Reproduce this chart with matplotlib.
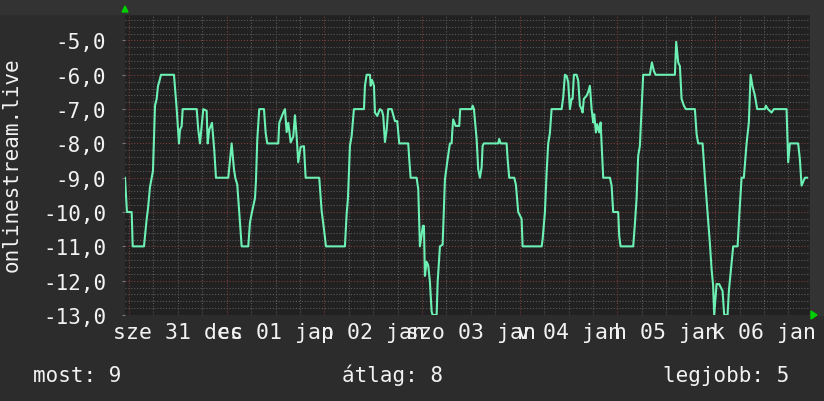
import numpy as np
import matplotlib.pyplot as plt
from matplotlib.patches import Rectangle, Polygon

# hours since 31 Dec 00:00 and the (negated) position
hours = [-0.98, -0.5, 0.66, 0.91, 3.68, 4.35, 4.67, 5.16, 5.58, 5.89, 6.39, 6.80, 7.12, 7.44, 7.86,
         11.05, 11.72, 12.28, 12.53, 12.94, 13.19, 16.63, 17.02, 17.44, 18.25, 19.08, 19.33, 19.72,
         20.39, 20.95, 21.37,
         24.39, 25.22, 25.79, 26.11, 26.60, 27.09, 27.68, 29.30, 29.72, 30.21, 30.95, 31.19, 31.51,
         32.00, 33.16, 33.58, 33.97, 36.67, 36.92, 37.90, 38.32, 38.73, 39.13, 39.72, 40.36, 40.77,
         41.19, 41.58, 42.17, 42.98, 43.40, 46.74, 47.33, 47.90,
         48.39, 53.05, 53.47, 53.79, 54.28, 54.70, 55.26, 57.72, 57.97, 58.38, 59.19, 59.37, 59.69,
         60.18, 60.42, 60.99, 61.65, 62.14, 62.46, 62.88, 63.30, 63.69, 64.52, 65.33, 65.90, 66.39,
         68.60, 68.85, 69.19, 70.66, 71.06, 71.47,
         72.21, 72.45, 72.70, 73.12, 73.51, 73.93, 74.35, 74.59, 75.58, 75.82, 76.07, 76.39, 77.05,
         77.62, 78.28, 78.84, 79.26, 79.41, 79.65, 80.24, 81.13, 81.37, 84.17, 84.42, 84.74, 85.40,
         85.79, 86.21, 86.63, 86.87, 87.19, 90.71, 90.95, 91.30, 92.77, 93.02, 93.41, 94.64, 95.05,
         95.62,
         96.45, 96.70, 101.37, 101.61, 102.18, 102.59, 102.99, 103.40, 103.82, 106.28, 106.67, 107.09,
         107.51, 107.90, 108.32, 108.74, 108.98, 109.30, 109.96, 110.36, 110.77, 111.19, 111.43,
         111.75, 112.42, 112.81, 113.23, 113.40, 113.65, 114.04, 114.29, 114.71, 115.03, 115.52,
         115.86, 116.11, 116.50, 118.15, 118.56, 118.95,
         120.18, 120.43, 120.77, 123.87, 124.28, 124.70, 125.09, 125.51, 125.92, 126.32, 127.96,
         128.46, 128.95, 129.37, 134.11, 134.43, 134.92, 135.34, 135.75, 136.32, 136.81, 139.02,
         139.44, 139.83, 140.91, 141.48, 142.70, 143.12, 143.51, 143.76,
         144.35, 144.99, 145.82, 146.22, 147.05, 147.37, 148.03, 148.43, 149.51, 149.90, 150.49,
         151.05, 151.72, 152.28, 152.70, 153.19, 153.76, 154.32, 156.21, 156.46, 156.95, 157.86,
         158.42, 161.54, 161.94, 162.35, 164.39, 164.81, 165.23, 166.04, 166.60]

rank = [-9.0, -10.0, -10.0, -11.0, -11.0, -10.2, -9.9, -9.27, -9.0, -8.8, -6.9, -6.7, -6.33, -6.2, -6.0,
        -6.0, -7.0, -8.0, -7.6, -7.5, -7.0, -7.0, -7.6, -8.0, -7.0, -7.05, -8.0, -7.6,
        -7.4, -8.2, -9.0,
        -9.0, -8.0, -8.75, -9.0, -9.2, -10.0, -11.0, -11.0, -10.3, -10.0, -9.6, -9.1, -7.9,
        -7.0, -7.0, -7.7, -8.0, -8.0, -7.4, -7.1, -7.0, -7.67, -7.4, -7.97, -7.8, -7.18,
        -7.8, -8.55, -8.1, -8.08, -9.0, -9.0, -9.97, -10.5,
        -11.0, -11.0, -10.05, -9.6, -8.07, -7.78, -7.0, -7.0, -6.32, -6.0, -6.0, -6.32, -6.15,
        -6.32, -7.1, -7.2, -7.0, -7.05, -7.2, -7.96, -7.6, -7.0, -7.0, -7.35, -7.35, -8.0,
        -8.0, -8.46, -9.0, -9.0, -9.33, -11.0,
        -10.4, -10.4, -11.86, -11.45, -11.55, -12.04, -12.9, -13.0, -13.0, -12.05, -11.57, -11.0, -10.95,
        -9.04, -8.46, -8.0, -8.0, -7.67, -7.3, -7.49, -7.49, -7.0, -7.0, -6.9, -7.0, -7.87,
        -8.75, -9.0, -8.7, -8.07, -8.0, -8.0, -7.87, -8.0, -8.0, -8.46, -9.0, -9.0, -9.2,
        -10.0,
        -10.2, -11.0, -11.0, -10.8, -10.0, -8.85, -8.0, -7.7, -7.0, -7.0, -6.66, -6.0,
        -6.03, -6.22, -7.0, -6.7, -6.7, -6.0, -6.0, -6.17, -6.9, -7.0, -7.1,
        -6.7, -6.61, -6.5, -6.32, -6.61, -7.0, -7.39, -7.15, -7.68, -7.44, -7.68,
        -7.39, -8.0, -9.0, -9.0, -9.23, -10.0,
        -10.0, -10.7, -11.0, -11.0, -10.35, -9.6, -8.36, -8.07, -7.0, -6.0, -6.0,
        -5.64, -5.89, -6.0, -6.0, -5.04, -5.64, -5.75, -6.7, -6.9, -7.0, -7.0,
        -7.73, -8.0, -8.0, -9.0, -10.9, -11.66, -12.15, -13.0,
        -12.1, -12.1, -12.3, -13.0, -13.0, -12.3, -11.5, -11.0, -11.0, -10.15, -9.0,
        -9.0, -8.0, -7.39, -6.0, -6.34, -6.6, -7.0, -7.0, -6.9, -7.0, -7.1,
        -7.0, -7.0, -8.55, -8.0, -8.0, -8.46, -9.23, -9.0, -9.0]

day_labels = ["sze 31 dec", "cs 01 jan", "p 02 jan", "szo 03 jan", "v 04 jan", "h 05 jan", "k 06 jan"]
label_hours = [12, 36, 60, 84, 108, 132, 156]

stat_names = ["most", "átlag", "legjobb"]
stat_values = [9, 8, 5]

W, H = 824, 402
MONO = "DejaVu Sans Mono"
TXT = "#f2f2f2"
GRID = "#5a5a5a"
MAJOR = "#7a3c3c"

fig = plt.figure(figsize=(W / 100, H / 100), dpi=100, facecolor="#2c2c2c")
# slightly lighter band on top and right side
fig.patches.append(Rectangle((0, 1 - 15 / H), 1, 15 / H, transform=fig.transFigure,
                             color="#333333", zorder=0))
fig.patches.append(Rectangle((810 / W, 86 / H), 14 / W, 1 - 101 / H, transform=fig.transFigure,
                             color="#333333", zorder=0))

ax = fig.add_axes([125 / W, 86 / H, 685 / W, 301.3 / H])
ax.set_facecolor("#212121")
for s in ax.spines.values():
    s.set_visible(False)

ax.set_xlim(-0.98, 167.3)
ax.set_ylim(-13, -4.22)

# grid: 0.2 steps horizontally, 6 h vertically, red on whole values / midnight
for v in np.arange(-13, -4.2, 0.2):
    is_major = abs(v - round(v)) < 1e-6
    ax.axhline(v, color=MAJOR if is_major else GRID, lw=0.8, ls=(0, (1, 1.6)), zorder=1)
for h in range(0, 168, 6):
    ax.axvline(h, color=MAJOR if h % 24 == 0 else GRID, lw=0.8, ls=(0, (1, 1.6)), zorder=1)

ax.plot(hours, rank, color="#6cf0b3", lw=1.5, zorder=3)

yt = list(range(-13, -4))
ax.set_yticks(yt, [f"{v},0" for v in yt])
ax.tick_params(axis="y", length=2.5, width=0.8, color="#777777", pad=11,
               labelsize=15, labelcolor=TXT)
ax.set_xticks(label_hours, day_labels)
ax.tick_params(axis="x", length=0, pad=5, labelsize=15.5, labelcolor=TXT)
for lab in ax.get_xticklabels() + ax.get_yticklabels():
    lab.set_fontfamily(MONO)

fig.text(12 / W, 1 - 165 / H, "onlinestream.live", rotation=90, ha="center", va="center",
         fontsize=15, color=TXT, family=MONO)

stat_x = [33, 342, 663]
for x, name, val in zip(stat_x, stat_names, stat_values):
    fig.text(x / W, 1 - 382 / H, f"{name}: {val}", ha="left", va="baseline",
             fontsize=15, color=TXT, family=MONO)

# green arrow heads on the axes
up = [(122, 13), (128, 13), (125, 7)]
right = [(811, 312), (811, 320), (817, 316)]
for tri in (up, right):
    fig.patches.append(Polygon([(x / W, 1 - y / H) for x, y in tri], closed=True,
                               transform=fig.transFigure, color="#00d000", zorder=5))

fig.savefig("out.png", dpi=100, facecolor=fig.get_facecolor())
